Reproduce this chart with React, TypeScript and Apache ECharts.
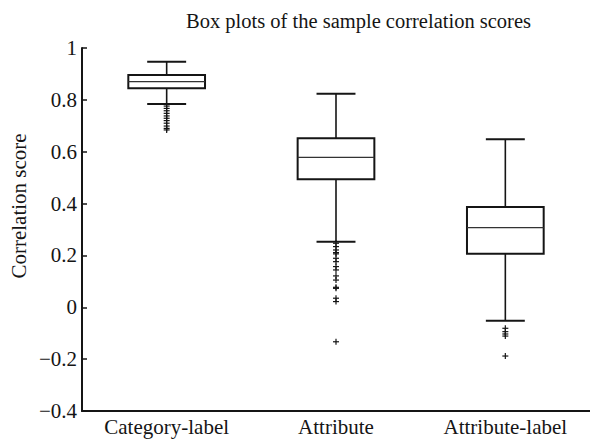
import React, { useEffect, useRef } from "react";
import * as echarts from "echarts";

const categories = ["Category-label", "Attribute", "Attribute-label"];
const lowerWhisker = [0.784, 0.253, -0.052];
const q1 = [0.845, 0.494, 0.206];
const median = [0.87, 0.578, 0.307];
const q3 = [0.896, 0.652, 0.387];
const upperWhisker = [0.947, 0.824, 0.648];

const outliersCategoryLabel = [0.776, 0.767, 0.758, 0.748, 0.738, 0.729, 0.72, 0.71, 0.699, 0.69, 0.684];
const outliersAttribute = [0.247, 0.234, 0.221, 0.211, 0.206, 0.189, 0.176, 0.157, 0.144, 0.121, 0.105, 0.077, 0.073, 0.035, 0.022, -0.133];
const outliersAttributeLabel = [-0.081, -0.094, -0.103, -0.111, -0.188];

const yTicks = { min: -0.4, max: 1, interval: 0.2 };
const titleText = "Box plots of the sample correlation scores";
const yName = "Correlation score";

const FONT = "Liberation Serif";
const INK = "#151515";

export default function App() {
  const ref = useRef<HTMLDivElement>(null);
  useEffect(() => {
    if (!ref.current) return;
    const chart = echarts.init(ref.current, null, { renderer: "svg" });
    const boxData = categories.map((_, i) => [i, lowerWhisker[i], q1[i], median[i], q3[i], upperWhisker[i]]);
    const outlierData: number[][] = [];
    [outliersCategoryLabel, outliersAttribute, outliersAttributeLabel].forEach((arr, i) =>
      arr.forEach((v) => outlierData.push([i, v]))
    );
    const lineStyle = { stroke: INK, lineWidth: 1.6, fill: "none" };
    chart.setOption({
      animation: false,
      textStyle: { fontFamily: FONT },
      title: {
        text: titleText,
        left: 181,
        top: 5,
        textStyle: { fontFamily: FONT, fontSize: 20.5, fontWeight: "normal", color: INK },
      },
      graphic: [
        {
          type: "text",
          x: 19,
          y: 206,
          rotation: Math.PI / 2,
          style: {
            text: yName,
            fontFamily: FONT,
            fontSize: 21,
            fill: INK,
            textAlign: "center",
            textVerticalAlign: "middle",
          },
        },
      ],
      grid: { left: 82, top: 48, bottom: 29, width: 510, containLabel: false },
      xAxis: {
        type: "category",
        data: categories,
        boundaryGap: true,
        axisLine: { onZero: false, lineStyle: { color: INK, width: 2 } },
        axisTick: { inside: true, alignWithLabel: true, length: 7, lineStyle: { color: "#b0b0b0" } },
        axisLabel: { fontFamily: FONT, fontSize: 21, color: INK, margin: 5 },
        splitLine: { show: false },
      },
      yAxis: {
        type: "value",
        min: yTicks.min,
        max: yTicks.max,
        interval: yTicks.interval,
        axisLine: { show: true, lineStyle: { color: INK, width: 2 } },
        axisTick: { show: true, inside: true, length: 5, lineStyle: { color: INK, width: 1.5 } },
        axisLabel: {
          fontFamily: FONT,
          fontSize: 21,
          color: INK,
          margin: 5,
          formatter: (v: number) => {
            const r = Math.round(v * 10) / 10;
            return String(r).replace("-", "\u2212");
          },
        },
        splitLine: { show: false },
      },
      series: [
        {
          type: "custom",
          data: boxData,
          renderItem: (params: any, api: any) => {
            const idx = api.value(0);
            const lo = api.coord([idx, api.value(1)]);
            const b1 = api.coord([idx, api.value(2)]);
            const md = api.coord([idx, api.value(3)]);
            const b3 = api.coord([idx, api.value(4)]);
            const hi = api.coord([idx, api.value(5)]);
            const band = api.size([1, 0])[0];
            const bw = band * 0.453;
            const cw = band * 0.23;
            const x = lo[0];
            return {
              type: "group",
              children: [
                { type: "rect", shape: { x: x - bw / 2, y: b3[1], width: bw, height: b1[1] - b3[1] }, style: { ...lineStyle, lineWidth: 2 } },
                { type: "line", shape: { x1: x - bw / 2, y1: md[1], x2: x + bw / 2, y2: md[1] }, style: { ...lineStyle, lineWidth: 1.3, stroke: "#333" } },
                { type: "line", shape: { x1: x, y1: hi[1], x2: x, y2: b3[1] }, style: lineStyle },
                { type: "line", shape: { x1: x, y1: b1[1], x2: x, y2: lo[1] }, style: lineStyle },
                { type: "line", shape: { x1: x - cw / 2, y1: hi[1], x2: x + cw / 2, y2: hi[1] }, style: { ...lineStyle, lineWidth: 2 } },
                { type: "line", shape: { x1: x - cw / 2, y1: lo[1], x2: x + cw / 2, y2: lo[1] }, style: { ...lineStyle, lineWidth: 2 } },
              ],
            };
          },
        },
        {
          type: "custom",
          data: outlierData,
          renderItem: (params: any, api: any) => {
            const p = api.coord([api.value(0), api.value(1)]);
            const s = 3;
            return {
              type: "group",
              children: [
                { type: "line", shape: { x1: p[0] - s, y1: p[1], x2: p[0] + s, y2: p[1] }, style: { stroke: INK, lineWidth: 1.2 } },
                { type: "line", shape: { x1: p[0], y1: p[1] - s, x2: p[0], y2: p[1] + s }, style: { stroke: INK, lineWidth: 1.2 } },
              ],
            };
          },
        },
      ],
    });
    return () => chart.dispose();
  }, []);
  return <div ref={ref} style={{ width: 590, height: 440, position: "absolute", left: 0, top: 0 }} />;
}
